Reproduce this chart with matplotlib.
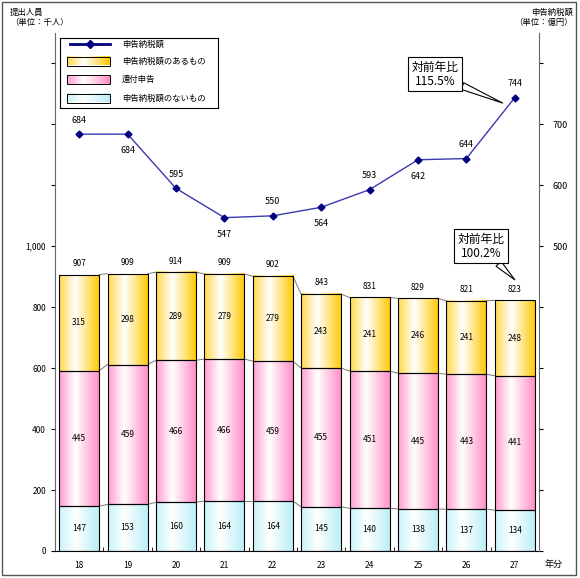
import numpy as np
import matplotlib
matplotlib.use('Agg')
import matplotlib.pyplot as plt
from matplotlib.patches import Rectangle
from matplotlib.ticker import FixedLocator, FuncFormatter

plt.rcParams['font.family'] = ['Noto Sans CJK JP', 'DejaVu Sans']

# データ
years = ['18', '19', '20', '21', '22', '23', '24', '25', '26', '27']
nashi = [147, 153, 160, 164, 164, 145, 140, 138, 137, 134]      # 申告納税額のないもの
kanpu = [445, 459, 466, 466, 459, 455, 451, 445, 443, 441]      # 還付申告
ari = [315, 298, 289, 279, 279, 243, 241, 246, 241, 248]        # 申告納税額のあるもの
totals = [907, 909, 914, 909, 902, 843, 831, 829, 821, 823]     # 提出人員
zeigaku = [684, 684, 595, 547, 550, 564, 593, 642, 644, 744]    # 申告納税額（億円）
label_pos = ['up', 'down', 'up', 'down', 'up', 'down', 'up', 'down', 'up', 'up']

series = [nashi, kanpu, ari]
names = ['申告納税額のないもの', '還付申告', '申告納税額のあるもの']
# グラデーション（左端, 白, 右端）
grads = [
    [(0.0, '#c8f4f8'), (0.4, '#ffffff'), (1.0, '#b8eef6')],
    [(0.0, '#ff9fcf'), (0.4, '#ffffff'), (1.0, '#ff8cc6')],
    [(0.0, '#ffd84a'), (0.4, '#ffffff'), (1.0, '#ffc800')],
]


def make_grad(stops, n=64):
    pos = [s[0] for s in stops]
    cols = [matplotlib.colors.to_rgb(s[1]) for s in stops]
    t = np.linspace(0, 1, n)
    arr = np.zeros((1, n, 3))
    for c in range(3):
        arr[0, :, c] = np.interp(t, pos, [col[c] for col in cols])
    return arr


W, H = 580, 578
fig = plt.figure(figsize=(W / 100, H / 100), dpi=100)
ax = fig.add_axes([55 / W, (H - 551) / H, (539 - 55) / W, (551 - 33) / H])
ax.set_zorder(1)
ax.patch.set_visible(False)

bw = 0.83
x = np.arange(len(years))
bottom = np.zeros(len(years))
for vals, g in zip(series, grads):
    img = make_grad(g)
    vals = np.array(vals)
    for i in range(len(years)):
        x0, x1 = x[i] - bw / 2, x[i] + bw / 2
        ax.imshow(img, extent=(x0, x1, bottom[i], bottom[i] + vals[i]),
                  aspect='auto', interpolation='bilinear', zorder=2)
        ax.add_patch(Rectangle((x0, bottom[i]), bw, vals[i], fill=False,
                               ec='black', lw=0.8, zorder=3))
        ax.text(x[i], bottom[i] + vals[i] / 2, str(vals[i]), ha='center',
                va='center', fontsize=6, zorder=4)
    top = bottom + vals
    # 系列線
    for i in range(len(years) - 1):
        ax.plot([x[i] + bw / 2, x[i + 1] - bw / 2], [top[i], top[i + 1]],
                color='#777777', lw=0.7, zorder=2)
    bottom = top

for i, t in enumerate(totals):
    ax.text(x[i], t + 22, str(t), ha='center', va='bottom', fontsize=6)

ax.set_xlim(-0.5, len(years) - 0.5)
ax.set_ylim(0, 1700)
ax.yaxis.set_major_locator(FixedLocator(range(0, 1601, 200)))
ax.yaxis.set_major_formatter(FuncFormatter(
    lambda v, p: f'{int(v):,}' if v <= 1000 else ''))
ax.set_xticks(x)
ax.set_xticklabels(years, fontsize=6)
ax.set_xticks(x[:-1] + 0.5, minor=True)
ax.tick_params(axis='x', which='major', length=0, pad=7)
ax.tick_params(axis='x', which='minor', direction='in', length=3)
ax.tick_params(axis='y', labelsize=6, length=3, width=0.8)
for s in ['top', 'right']:
    ax.spines[s].set_visible(False)
ax.spines['left'].set_color('#666666')
ax.spines['bottom'].set_color('black')

# 申告納税額（右軸）
ax2 = ax.twinx()
ax2.set_zorder(2)
ax2.plot(x, zeigaku, color='#3a3ab0', lw=1, marker='D', ms=3.5,
         mfc='#000080', mec='#000080')
for i, v in enumerate(zeigaku):
    off = 10 if label_pos[i] == 'up' else -12
    ax2.annotate(str(v), (x[i], v), xytext=(0, off), textcoords='offset points',
                 ha='center', va='center', fontsize=6.5)
ax2.set_ylim(0, 850)
ax2.yaxis.set_major_locator(FixedLocator(range(0, 801, 100)))
ax2.yaxis.set_major_formatter(FuncFormatter(
    lambda v, p: f'{int(v)}' if 500 <= v <= 700 else ''))
ax2.tick_params(axis='y', labelsize=6.5, length=3, width=0.8, pad=7)
for s in ['top', 'left', 'bottom']:
    ax2.spines[s].set_visible(False)
ax2.spines['right'].set_color('#666666')

# 吹き出し
ax2.annotate('対前年比\n115.5%', xy=(8.75, 735), xytext=(7.35, 782),
             ha='center', va='center', fontsize=8.5, linespacing=1.1,
             bbox=dict(boxstyle='square,pad=0.3', fc='white', ec='black', lw=0.8),
             arrowprops=dict(arrowstyle='wedge,tail_width=0.6', fc='white',
                             ec='black', lw=0.8, shrinkA=0, shrinkB=0))
ax.annotate('対前年比\n100.2%', xy=(9.0, 890), xytext=(8.3, 1000),
            ha='center', va='center', fontsize=8.5, linespacing=1.1,
            bbox=dict(boxstyle='square,pad=0.3', fc='white', ec='black', lw=0.8),
            arrowprops=dict(arrowstyle='wedge,tail_width=0.6', fc='white',
                            ec='black', lw=0.8, shrinkA=0, shrinkB=0), zorder=5)

# 凡例
lg = fig.add_axes([60 / W, (H - 108) / H, (218 - 60) / W, (108 - 38) / H])
lg.set_zorder(3)
lg.set_xlim(0, 158)
lg.set_ylim(70, 0)
lg.set_xticks([])
lg.set_yticks([])
for s in lg.spines.values():
    s.set_linewidth(0.8)
lg.plot([10, 50], [6, 6], color='#000080', lw=2)
lg.plot([30], [6], marker='D', ms=4, color='#000080')
lg.text(62, 6, '申告納税額', va='center', fontsize=6)
leg_items = list(zip(names, grads))[::-1]
for k, (nm, g) in enumerate(leg_items):
    yc = 23 + k * 18.5
    lg.imshow(make_grad(g), extent=(7, 50, yc + 4.5, yc - 4.5), aspect='auto',
              interpolation='bilinear')
    lg.add_patch(Rectangle((7, yc - 4.5), 43, 9, fill=False, ec='black', lw=0.7))
    lg.text(62, yc, nm, va='center', fontsize=6)
lg.set_xlim(0, 158)
lg.set_ylim(70, 0)

# 軸タイトル
fig.text(10 / W, 1 - 8 / H, '提出人員\n（単位：千人）', ha='left', va='top',
         fontsize=6, linespacing=1.2)
fig.text(573 / W, 1 - 8 / H, '申告納税額\n（単位：億円）', ha='right', va='top',
         fontsize=6, linespacing=1.2)
fig.text(545 / W, 1 - 564 / H, '年分', ha='left', va='center', fontsize=6.5)

fig.patches.append(Rectangle((2 / W, 3 / H), 574 / W, 573 / H, fill=False,
                             ec='#555555', lw=1, transform=fig.transFigure))

fig.savefig('out.png', dpi=100)
